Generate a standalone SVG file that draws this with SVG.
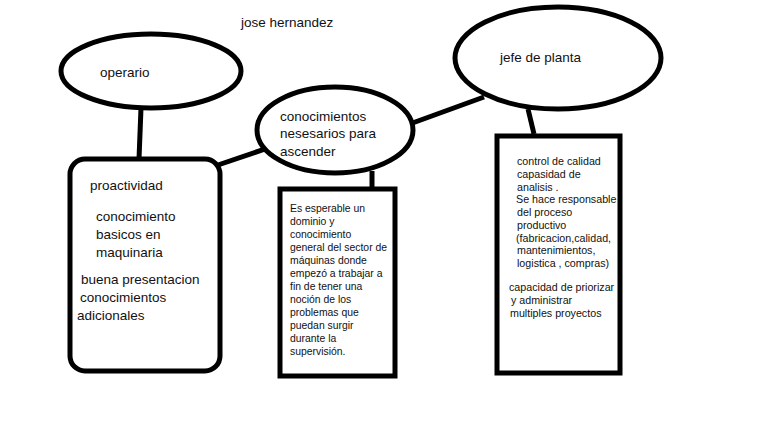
<svg xmlns="http://www.w3.org/2000/svg" width="768" height="432" viewBox="0 0 768 432">
<style>
.sh{fill:#fff;stroke:#000;stroke-width:5}
.ln{stroke:#000;stroke-width:5;fill:none}
text{font-family:"Liberation Sans",Arial,sans-serif;fill:#111}
.t13{font-size:13.5px}
.s{font-size:10.4px}
.r{font-size:10.7px}
</style>
<defs>
<clipPath id="cr"><rect x="498" y="137" width="121" height="235"/></clipPath>
</defs>
<rect width="768" height="432" fill="#fff"/>
<text class="t13" x="241" y="27">jose hernandez</text>
<g id="connectors">
<line class="ln" x1="141" y1="108" x2="139" y2="159"/>
<line class="ln" x1="218" y1="165" x2="268" y2="148"/>
<line class="ln" x1="407" y1="125" x2="484" y2="97"/>
<line class="ln" x1="372" y1="171" x2="372" y2="188"/>
<line class="ln" x1="528" y1="109" x2="534" y2="134"/>
</g>
<g id="operario">
<ellipse class="sh" cx="151" cy="71" rx="90" ry="37"/>
<text class="t13" x="100" y="77">operario</text>
</g>
<g id="jefe">
<ellipse class="sh" cx="558" cy="58" rx="103" ry="51"/>
<text class="t13" x="500" y="62">jefe de planta</text>
</g>
<g id="conocimientos">
<ellipse class="sh" cx="335" cy="130" rx="78" ry="43"/>
<text class="t13" x="280" y="121">conocimientos</text>
<text class="t13" x="280" y="138">nesesarios para</text>
<text class="t13" x="280" y="156">ascender</text>
</g>
<g id="operario-box">
<rect class="sh" x="70" y="159" width="150" height="212" rx="15"/>
<text class="t13" x="90" y="190">proactividad</text>
<text class="t13" x="96" y="221">conocimiento</text>
<text class="t13" x="96" y="239">basicos en</text>
<text class="t13" x="96" y="257">maquinaria</text>
<text class="t13" x="81" y="284">buena presentacion</text>
<text class="t13" x="80" y="302">conocimientos</text>
<text class="t13" x="77" y="320">adicionales</text>
</g>
<g id="ascender-box">
<rect class="sh" x="280" y="189" width="115" height="187"/>
<text class="s" x="290" y="212">Es esperable un</text>
<text class="s" x="290" y="225">dominio y</text>
<text class="s" x="290" y="238">conocimiento</text>
<text class="s" x="290" y="251">general del sector de</text>
<text class="s" x="290" y="264">máquinas donde</text>
<text class="s" x="290" y="277">empezó a trabajar a</text>
<text class="s" x="290" y="290">fin de tener una</text>
<text class="s" x="290" y="303">noción de los</text>
<text class="s" x="290" y="316">problemas que</text>
<text class="s" x="290" y="329">puedan surgir</text>
<text class="s" x="290" y="342">durante la</text>
<text class="s" x="290" y="355">supervisión.</text>
</g>
<g id="jefe-box">
<rect class="sh" x="497" y="136" width="123" height="237"/>
<g clip-path="url(#cr)">
<text class="r" x="517" y="165">control de calidad</text>
<text class="r" x="517" y="177.5">capasidad de</text>
<text class="r" x="517" y="190.5">analisis .</text>
<text class="r" x="516" y="203">Se hace responsable</text>
<text class="r" x="517" y="216">del proceso</text>
<text class="r" x="517" y="229">productivo</text>
<text class="r" x="516" y="242">(fabricacion,calidad,</text>
<text class="r" x="517" y="254">mantenimientos,</text>
<text class="r" x="517" y="266.5">logistica , compras)</text>
<text class="r" x="509" y="291">capacidad de priorizar</text>
<text class="r" x="511" y="304">y administrar</text>
<text class="r" x="510" y="316.5">multiples proyectos</text>
</g>
</g>
</svg>
